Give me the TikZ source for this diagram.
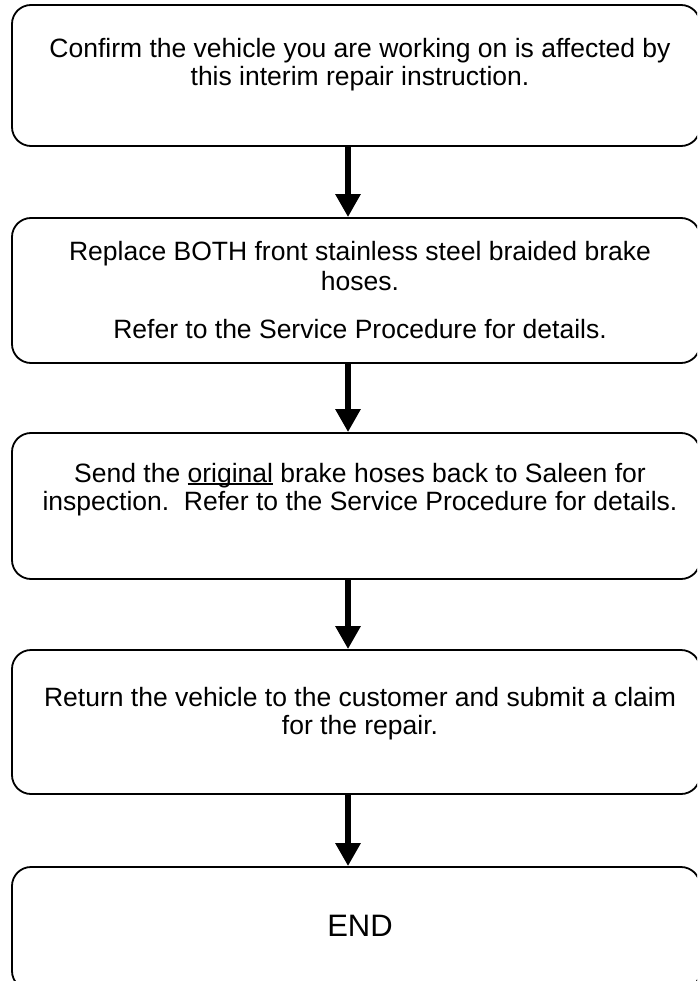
\documentclass[tikz,border=0pt]{standalone}
\usepackage{fontspec}
\setmainfont{Liberation Sans}
\usetikzlibrary{arrows.meta, positioning, calc}

\newcommand\ulword[1]{\setbox0\hbox{#1}\rlap{\rule[-3pt]{\wd0}{1.6pt}}#1}

\tikzset{
  stepbox/.style={draw, line width=1.8pt, rounded corners=19pt, minimum width=688pt, inner sep=0pt},
  steptext/.style={font=\fontsize{26.5}{28}\selectfont, align=center, anchor=base, inner sep=0pt},
  flow/.style={line width=6.5pt, -{Triangle[width=24pt,length=23pt]}}
}

\begin{document}
\begin{tikzpicture}[x=1pt, y=-1pt]
\useasboundingbox (0,0) rectangle (697,981);
\clip (0,0) rectangle (697,981);

% boxes
\node[stepbox, minimum height=141pt] (confirm) at (356,75.5) {};
\node[stepbox, minimum height=145pt] (replace) at (356,290.5) {};
\node[stepbox, minimum height=146pt] (send) at (356,506) {};
\node[stepbox, minimum height=144pt] (claim) at (356,722) {};
\node[stepbox, minimum height=123pt] (finish) at (356,928.5) {};

% texts (anchored at the last baseline)
\node[steptext] (confirmtxt) at (360,86) {Confirm the vehicle you are working on is affected by\\this interim repair instruction.};
\node[steptext] (replacetxt) at (360,338) {Replace BOTH front stainless steel braided brake\\[2pt]hoses.\\[20pt]Refer to the Service Procedure for details.};
\node[steptext] (sendtxt) at (360,510) {Send the \ulword{original} brake hoses back to Saleen for\\inspection.\ \ Refer to the Service Procedure for details.};
\node[steptext] (claimtxt) at (360,734) {Return the vehicle to the customer and submit a claim\\for the repair.};
\node[steptext, font=\fontsize{31}{34}\selectfont] (finishtxt) at (360,936) {END};

% arrows
\draw[flow] ([xshift=-8pt]confirm.south) -- ([xshift=-8pt]replace.north);
\draw[flow] ([xshift=-8pt]replace.south) -- ([xshift=-8pt]send.north);
\draw[flow] ([xshift=-8pt]send.south) -- ([xshift=-8pt]claim.north);
\draw[flow] ([xshift=-8pt]claim.south) -- ([xshift=-8pt]finish.north);
\end{tikzpicture}
\end{document}
